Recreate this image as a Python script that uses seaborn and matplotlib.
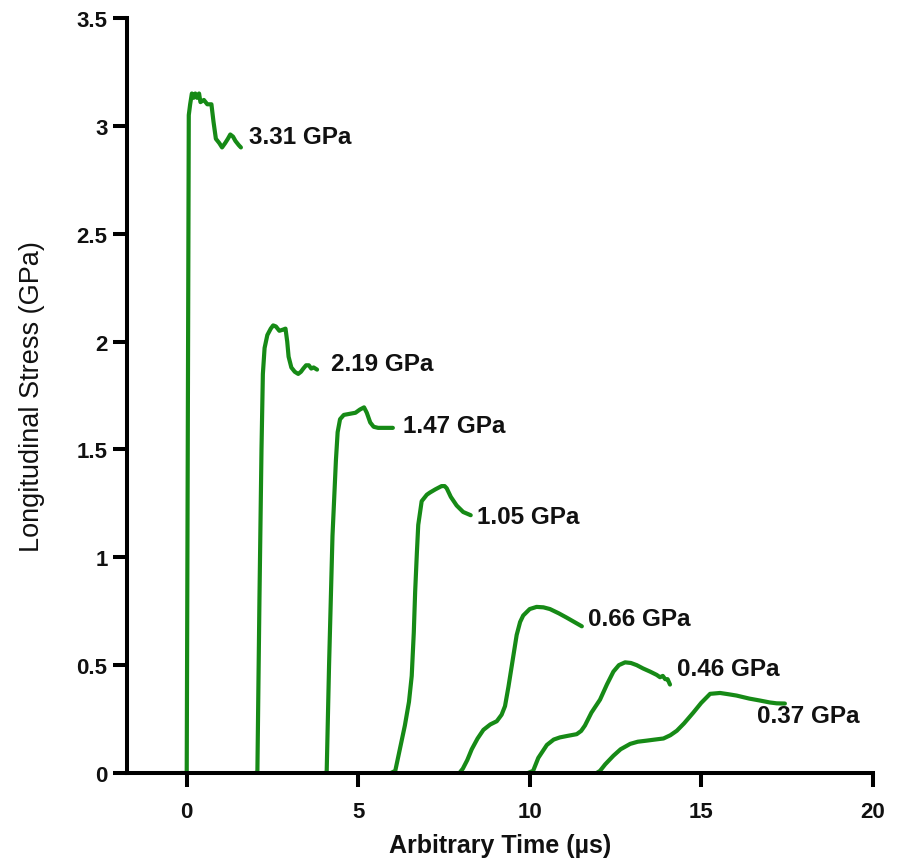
import numpy as np
import pandas as pd
import matplotlib
matplotlib.use("Agg")
import matplotlib.pyplot as plt
import seaborn as sns

# Stress traces, each shifted by 2 µs along the time axis
t_331 = [-0.18, 0.0, 0.03, 0.06, 0.10, 0.15, 0.20, 0.25, 0.30, 0.36, 0.40, 0.50, 0.60, 0.72,
         0.78, 0.85, 0.95, 1.03, 1.12, 1.20, 1.27, 1.35, 1.42, 1.52, 1.58]
s_331 = [0.0, 0.0, 1.5, 3.05, 3.10, 3.15, 3.13, 3.15, 3.13, 3.15, 3.11, 3.12, 3.10, 3.10,
         3.02, 2.94, 2.92, 2.90, 2.92, 2.94, 2.96, 2.95, 2.93, 2.91, 2.90]

t_219 = [1.98, 2.06, 2.12, 2.18, 2.22, 2.27, 2.35, 2.45, 2.52, 2.60, 2.70, 2.80, 2.88, 2.93,
         2.97, 3.05, 3.15, 3.25, 3.33, 3.40, 3.48, 3.56, 3.63, 3.70, 3.80]
s_219 = [0.0, 0.0, 0.8, 1.5, 1.85, 1.97, 2.03, 2.06, 2.075, 2.07, 2.05, 2.055, 2.06, 2.0,
         1.93, 1.88, 1.86, 1.85, 1.86, 1.875, 1.89, 1.89, 1.875, 1.88, 1.87]

t_147 = [4.0, 4.08, 4.15, 4.25, 4.35, 4.40, 4.47, 4.58, 4.75, 4.92, 5.05, 5.17, 5.25, 5.35,
         5.45, 5.58, 5.80, 6.01]
s_147 = [0.0, 0.0, 0.5, 1.1, 1.45, 1.58, 1.64, 1.66, 1.665, 1.67, 1.685, 1.695, 1.67, 1.625,
         1.605, 1.60, 1.60, 1.60]

t_105 = [5.95, 6.08, 6.20, 6.36, 6.48, 6.56, 6.62, 6.66, 6.71, 6.75, 6.85, 7.0, 7.09, 7.25,
         7.43, 7.52, 7.58, 7.70, 7.87, 8.06, 8.28]
s_105 = [0.0, 0.01, 0.10, 0.22, 0.33, 0.45, 0.65, 0.84, 1.02, 1.15, 1.26, 1.29, 1.30, 1.315,
         1.33, 1.33, 1.32, 1.28, 1.24, 1.21, 1.195]

t_066 = [7.95, 8.05, 8.18, 8.31, 8.48, 8.65, 8.85, 9.04, 9.18, 9.28, 9.38, 9.48, 9.62, 9.72,
         9.81, 10.0, 10.2, 10.4, 10.59, 10.85, 11.08, 11.3, 11.52]
s_066 = [0.0, 0.02, 0.06, 0.11, 0.16, 0.20, 0.225, 0.24, 0.27, 0.31, 0.40, 0.50, 0.64, 0.70,
         0.73, 0.76, 0.77, 0.768, 0.76, 0.74, 0.72, 0.70, 0.68]

t_046 = [9.95, 10.1, 10.25, 10.5, 10.7, 10.88, 11.1, 11.37, 11.5, 11.61, 11.8, 12.05, 12.25,
         12.44, 12.6, 12.78, 12.95, 13.12, 13.3, 13.51, 13.7, 13.8, 13.88, 13.95, 14.02, 14.09]
s_046 = [0.0, 0.01, 0.07, 0.13, 0.155, 0.165, 0.172, 0.18, 0.195, 0.22, 0.28, 0.34, 0.41,
         0.47, 0.50, 0.513, 0.51, 0.50, 0.485, 0.47, 0.455, 0.444, 0.45, 0.435, 0.435, 0.41]

t_037 = [11.95, 12.05, 12.2, 12.44, 12.65, 12.93, 13.15, 13.41, 13.65, 13.9, 14.1, 14.29, 14.5,
         14.77, 15.0, 15.26, 15.55, 15.8, 16.03, 16.4, 16.71, 17.0, 17.2, 17.44]
s_037 = [0.0, 0.01, 0.04, 0.08, 0.11, 0.135, 0.145, 0.15, 0.155, 0.16, 0.175, 0.196, 0.23,
         0.28, 0.325, 0.367, 0.371, 0.365, 0.359, 0.345, 0.336, 0.327, 0.323, 0.322]

trace_names = ["3.31 GPa", "2.19 GPa", "1.47 GPa", "1.05 GPa", "0.66 GPa", "0.46 GPa", "0.37 GPa"]
trace_t = [t_331, t_219, t_147, t_105, t_066, t_046, t_037]
trace_s = [s_331, s_219, s_147, s_105, s_066, s_046, s_037]

# Where each peak-stress annotation sits (time, stress)
label_t = [1.83, 4.21, 6.30, 8.45, 11.71, 14.29, 16.62]
label_s = [2.95, 1.90, 1.61, 1.19, 0.718, 0.483, 0.266]

x_ticks = [0, 5, 10, 15, 20]
y_ticks = [0, 0.5, 1, 1.5, 2, 2.5, 3, 3.5]
y_tick_labels = ["0", "0.5", "1", "1.5", "2", "2.5", "3", "3.5"]

frames = []
for name, t, s in zip(trace_names, trace_t, trace_s):
    frames.append(pd.DataFrame({"time": t, "stress": s, "trace": name}))
df = pd.concat(frames, ignore_index=True)

sns.set_theme(style="ticks")
plt.rcParams["font.family"] = ["Liberation Sans", "DejaVu Sans"]

green = "#168a16"

fig = plt.figure(figsize=(8.97, 8.62), dpi=100)
ax = fig.add_axes([126.7 / 897, (862 - 774) / 862, 746 / 897, 755 / 862])

sns.lineplot(data=df, x="time", y="stress", units="trace", estimator=None, sort=False,
             color=green, linewidth=3.0, ax=ax, legend=False)

for name, lt, ls in zip(trace_names, label_t, label_s):
    ax.text(lt, ls, name, ha="left", va="center", fontsize=17.5, fontweight="bold",
            color="#111111")

ax.set_xlim(-1.75, 20)
ax.set_ylim(0, 3.5)
ax.set_xticks(x_ticks)
ax.set_xticklabels([str(v) for v in x_ticks])
ax.set_yticks(y_ticks)
ax.set_yticklabels(y_tick_labels)

for side in ("top", "right"):
    ax.spines[side].set_visible(False)
for side in ("left", "bottom"):
    ax.spines[side].set_linewidth(2.9)
    ax.spines[side].set_color("black")
    ax.spines[side].set_capstyle("projecting")

ax.tick_params(axis="both", direction="out", length=9.8, width=2.9, color="black")
ax.tick_params(axis="x", pad=10.5)
ax.tick_params(axis="y", pad=4)
for lab in ax.get_xticklabels() + ax.get_yticklabels():
    lab.set_fontsize(16)
    lab.set_fontweight("bold")
    lab.set_color("#111111")

ax.set_xlabel("Arbitrary Time (µs)", fontsize=18, fontweight="bold", color="#111111")
ax.set_ylabel("Longitudinal Stress (GPa)", fontsize=19.5, color="#111111")
ax.xaxis.set_label_coords(0.5, -0.080)
ax.yaxis.set_label_coords(-0.1095, 0.5)

fig.savefig("out.png", dpi=100)
